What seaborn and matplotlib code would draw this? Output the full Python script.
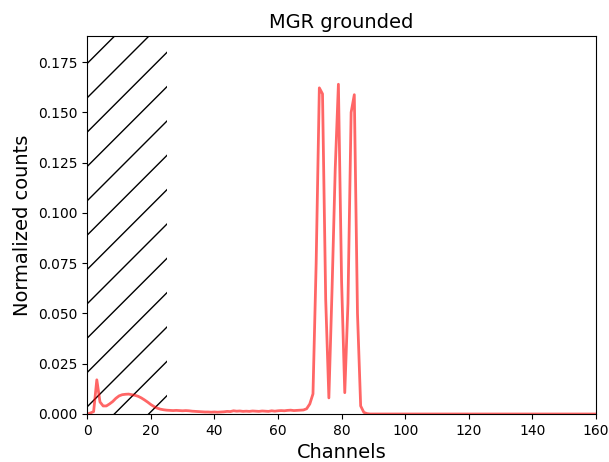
import matplotlib
matplotlib.use("Agg")
import matplotlib.pyplot as plt
import matplotlib.hatch as mhatch
import seaborn as sns
import pandas as pd

# Rendering resolution; point sizes are scaled so text and lines keep their usual size
DPI = 103
S = 100 / DPI

channels = list(range(0, 161))
counts = [
    0.0000, 0.0005, 0.0012, 0.0170, 0.0060, 0.0040, 0.0040, 0.0050, 0.0062, 0.0078,  # 0-9
    0.0090, 0.0096, 0.0098, 0.0099, 0.0096, 0.0093, 0.0088, 0.0080, 0.0070, 0.0059,  # 10-19
    0.0047, 0.0037, 0.0029, 0.0024, 0.0021, 0.0019, 0.0018, 0.0017, 0.0018, 0.0017,  # 20-29
    0.0016, 0.0017, 0.0016, 0.0014, 0.0013, 0.0012, 0.0011, 0.0010, 0.0010, 0.0009,  # 30-39
    0.0010, 0.0009, 0.0010, 0.0011, 0.0013, 0.0012, 0.0016, 0.0014, 0.0015, 0.0013,  # 40-49
    0.0014, 0.0013, 0.0015, 0.0014, 0.0013, 0.0015, 0.0014, 0.0013, 0.0016, 0.0014,  # 50-59
    0.0016, 0.0017, 0.0016, 0.0018, 0.0019, 0.0017, 0.0018, 0.0019, 0.0020, 0.0026,  # 60-69
    0.0050, 0.0100, 0.0750, 0.1622, 0.1592, 0.0570, 0.0080, 0.0620, 0.1220, 0.1640,  # 70-79
    0.0660, 0.0106, 0.0550, 0.1500, 0.1588, 0.0500, 0.0040, 0.0008, 0.0002, 0.0000,  # 80-89
    0.0, 0.0, 0.0, 0.0, 0.0, 0.0, 0.0, 0.0, 0.0, 0.0,  # 90-99
    0.0, 0.0, 0.0, 0.0, 0.0, 0.0, 0.0, 0.0, 0.0, 0.0,  # 100-109
    0.0, 0.0, 0.0, 0.0, 0.0, 0.0, 0.0, 0.0, 0.0, 0.0,  # 110-119
    0.0, 0.0, 0.0, 0.0, 0.0, 0.0, 0.0, 0.0, 0.0, 0.0,  # 120-129
    0.0, 0.0, 0.0, 0.0, 0.0, 0.0, 0.0, 0.0, 0.0, 0.0,  # 130-139
    0.0, 0.0, 0.0, 0.0, 0.0, 0.0, 0.0, 0.0, 0.0, 0.0,  # 140-149
    0.0, 0.0, 0.0, 0.0, 0.0, 0.0, 0.0, 0.0, 0.0, 0.0,  # 150-159
    0.0,                                               # 160
]

excluded_range = (0, 25)
x_limits = (0, 160)
y_limits = (0, 0.188)

# Offset of the '/' hatch lines inside their pattern tile (fraction of the tile)
HATCH_SHIFT = 0.204


class ShiftedNorthEastHatch(mhatch.NorthEastHatch):
    def set_vertices_and_codes(self, vertices, codes):
        super().set_vertices_and_codes(vertices, codes)
        # lengthen each stroke so the shifted lines still cross the whole tile
        vertices[0::2] -= 0.5
        vertices[1::2] += 0.5
        vertices[:, 1] += HATCH_SHIFT


mhatch._hatch_types = [
    ShiftedNorthEastHatch if t is mhatch.NorthEastHatch else t
    for t in mhatch._hatch_types
]

plt.rcParams.update({
    "font.family": "DejaVu Sans",
    "font.size": 10 * S,
    "axes.linewidth": 0.8 * S,
    "xtick.major.size": 3.5 * S,
    "ytick.major.size": 3.5 * S,
    "xtick.major.width": 0.8 * S,
    "ytick.major.width": 0.8 * S,
    "xtick.major.pad": 3.5 * S,
    "ytick.major.pad": 3.5 * S,
    "axes.titlepad": 6.0 * S,
    "axes.labelpad": 4.0 * S,
    "hatch.linewidth": 1.0 * S,
})

df = pd.DataFrame({"Channels": channels, "Normalized counts": counts})

fig = plt.figure(figsize=(609 / DPI, 462 / DPI), dpi=DPI)
ax = fig.add_axes([0.1433, 0.1039, 0.9785 - 0.1433, 0.9221 - 0.1039])

# Hatched band marking the excluded low channels
ax.axvspan(*excluded_range, facecolor="none", edgecolor="black",
           hatch="/", linewidth=0)

sns.lineplot(data=df, x="Channels", y="Normalized counts", ax=ax,
             color="red", alpha=0.6, linewidth=2 * S)

ax.set_xlim(*x_limits)
ax.set_ylim(*y_limits)
ax.set_title("MGR grounded", fontsize=14 * S)
ax.set_xlabel("Channels", fontsize=14 * S)
ax.set_ylabel("Normalized counts", fontsize=14 * S)
ax.tick_params(labelsize=10 * S)

fig.savefig("out.png", dpi=DPI)
